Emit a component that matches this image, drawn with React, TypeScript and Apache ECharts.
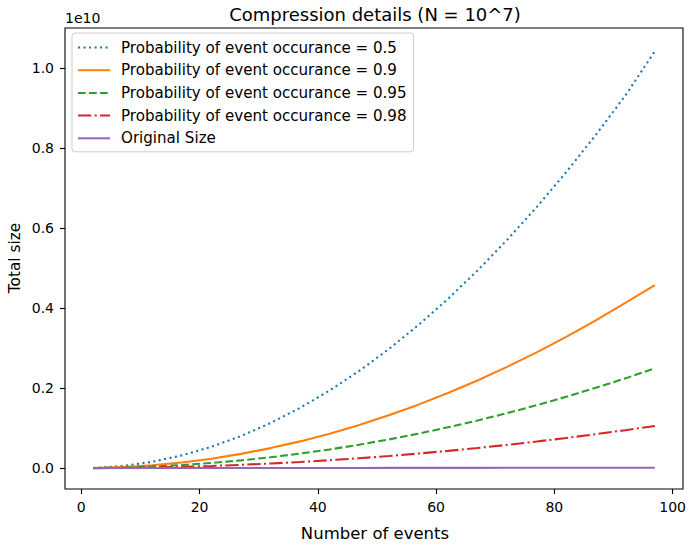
import React, { useEffect, useRef } from "react";
import * as echarts from "echarts";

// Number of events (x)
const events = [2, 7, 12, 17, 22, 27, 32, 37, 42, 47, 52, 57, 62, 67, 72, 77, 82, 87, 92, 97];

// Total size, in units of 1e10
const p050 = [0.0004, 0.0054, 0.0158, 0.0318, 0.0532, 0.0802, 0.1126, 0.1506, 0.194, 0.243, 0.2974, 0.3574, 0.4228, 0.4938, 0.5702, 0.6522, 0.7396, 0.8326, 0.931, 1.042];
const p090 = [0.0002, 0.0024, 0.007, 0.0141, 0.0236, 0.0356, 0.05, 0.0668, 0.0861, 0.1078, 0.132, 0.1586, 0.1876, 0.2191, 0.253, 0.2893, 0.3281, 0.3694, 0.413, 0.4575];
const p095 = [0.0001, 0.0013, 0.0038, 0.0077, 0.0128, 0.0193, 0.0271, 0.0363, 0.0467, 0.0585, 0.0717, 0.0861, 0.1019, 0.119, 0.1374, 0.1571, 0.1782, 0.2006, 0.2243, 0.2494];
const p098 = [0.00004, 0.00055, 0.0016, 0.0032, 0.0054, 0.0082, 0.0115, 0.0153, 0.0198, 0.0247, 0.0303, 0.0364, 0.0431, 0.0503, 0.058, 0.0664, 0.0753, 0.0848, 0.0948, 0.1054];
const original = [0.00002, 0.00007, 0.00012, 0.00017, 0.00022, 0.00027, 0.00032, 0.00037, 0.00042, 0.00047, 0.00052, 0.00057, 0.00062, 0.00067, 0.00072, 0.00077, 0.00082, 0.00087, 0.00092, 0.00097];

const seriesNames = [
  "Probability of event occurance = 0.5",
  "Probability of event occurance = 0.9",
  "Probability of event occurance = 0.95",
  "Probability of event occurance = 0.98",
  "Original Size",
];

const xTicks = [0, 20, 40, 60, 80, 100];
const yTicks = [0, 0.2, 0.4, 0.6, 0.8, 1.0];

const FONT = "DejaVu Sans";

export default function App() {
  const ref = useRef<HTMLDivElement>(null);
  useEffect(() => {
    if (!ref.current) return;
    const chart = echarts.init(ref.current, null, { renderer: "svg" });
    const lw = 2.08;
    const mk = (name: string, vals: number[], color: string, type: any) => ({
      name,
      type: "line",
      data: events.map((x, i) => [x, vals[i]]),
      symbol: "none",
      showSymbol: false,
      lineStyle: { color, width: lw, type, cap: "butt" },
      itemStyle: { color },
      color,
    });
    const axisCommon = {
      type: "value",
      splitLine: { show: false },
      axisLine: { show: false, onZero: false },
    };
    chart.setOption({
      animation: false,
      textStyle: { fontFamily: FONT },
      grid: {
        left: 65,
        right: 5,
        top: 28,
        bottom: 57,
        show: true,
        borderColor: "#000",
        borderWidth: 1.1,
        backgroundColor: "transparent",
      },
      xAxis: {
        ...axisCommon,
        min: -2.75,
        max: 101.75,
        axisTick: { show: true, inside: false, length: 5, lineStyle: { color: "#000", width: 1.1 }, customValues: xTicks },
        axisLabel: { customValues: xTicks, color: "#000", fontSize: 14, fontFamily: FONT, margin: 11 },
      },
      yAxis: {
        ...axisCommon,
        min: -0.0522,
        max: 1.0999,
        axisTick: { show: true, inside: false, length: 5, lineStyle: { color: "#000", width: 1.1 }, customValues: yTicks },
        axisLabel: {
          customValues: yTicks,
          color: "#000",
          fontSize: 14,
          fontFamily: FONT,
          margin: 11,
          formatter: (v: number) => v.toFixed(1),
        },
      },
      legend: {
        orient: "vertical",
        left: 72,
        top: 33,
        padding: [7, 7, 6, 5],
        itemGap: 7.7,
        itemWidth: 32,
        itemHeight: 15,
        borderColor: "#cccccc",
        borderWidth: 1,
        borderRadius: 3,
        backgroundColor: "rgba(255,255,255,0.8)",
        itemStyle: { opacity: 0 },
        data: seriesNames,
        textStyle: { color: "#000", fontSize: 15.1, fontFamily: FONT, padding: [0, 0, 0, 6] },
      },
      series: [
        mk(seriesNames[0], p050, "#1f77b4", [2.08, 3.43]),
        mk(seriesNames[1], p090, "#ff7f0e", "solid"),
        mk(seriesNames[2], p095, "#2ca02c", [7.7, 3.33]),
        mk(seriesNames[3], p098, "#d62728", [13.3, 3.33, 2.08, 3.33]),
        mk(seriesNames[4], original, "#9467bd", "solid"),
      ],
      graphic: [
        {
          type: "text",
          x: 375,
          y: 14,
          style: {
            text: "Compression details (N = 10^7)",
            fontSize: 18,
            fontFamily: FONT,
            fill: "#000",
            align: "center",
            verticalAlign: "middle",
          },
        },
        {
          type: "text",
          x: 65,
          y: 18,
          style: {
            text: "1e10",
            fontSize: 14,
            fontFamily: FONT,
            fill: "#000",
            align: "left",
            verticalAlign: "middle",
          },
        },
        {
          type: "text",
          x: 375,
          y: 533,
          style: {
            text: "Number of events",
            fontSize: 16.5,
            fontFamily: FONT,
            fill: "#000",
            align: "center",
            verticalAlign: "middle",
          },
        },
        {
          type: "text",
          x: 15,
          y: 258,
          rotation: Math.PI / 2,
          style: {
            text: "Total size",
            fontSize: 15.3,
            fontFamily: FONT,
            fill: "#000",
            align: "center",
            verticalAlign: "middle",
          },
        },
      ],
    });
    return () => chart.dispose();
  }, []);
  return (
    <div
      ref={ref}
      style={{ position: "fixed", left: 0, top: 0, width: 689, height: 546, background: "#fff" }}
    />
  );
}
